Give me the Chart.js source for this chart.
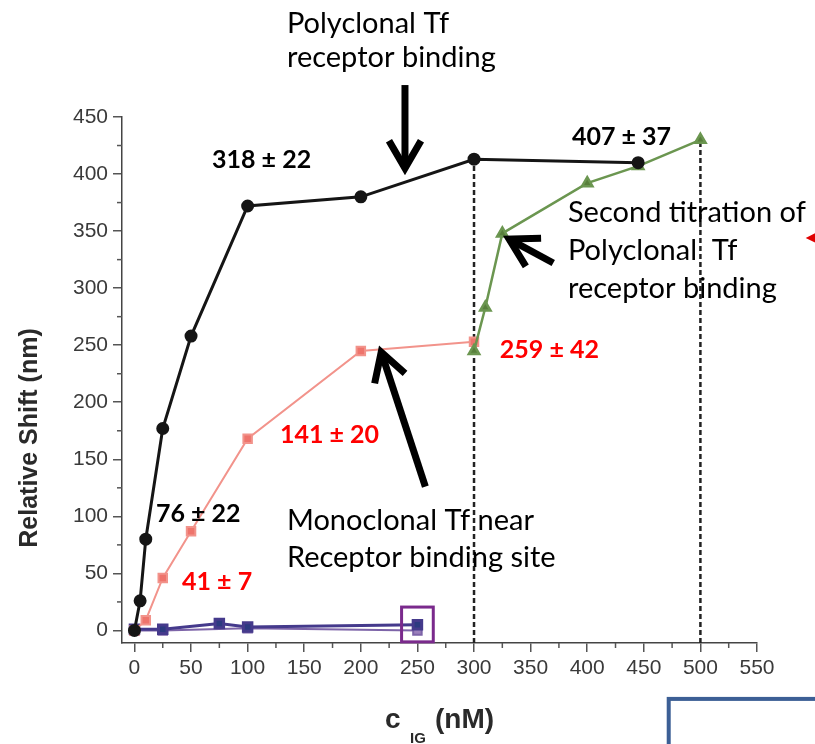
<!DOCTYPE html>
<html>
<head>
<meta charset="utf-8">
<script src="https://cdn.jsdelivr.net/npm/chart.js@4.4.1/dist/chart.umd.min.js"></script>
<style>
  html, body { margin: 0; padding: 0; background: #fff; }
  canvas { display: block; }
</style>
</head>
<body>
<canvas id="chart" width="815" height="744"></canvas>
<script>
// tick labels
const xTicks = [0, 50, 100, 150, 200, 250, 300, 350, 400, 450, 500, 550];
const yTicks = [0, 50, 100, 150, 200, 250, 300, 350, 400, 450];

// Polyclonal Tf receptor binding (black circles)
const polyX = [0, 5, 10, 25, 50, 100, 200, 300, 445];
const polyY = [0, 26, 80, 177, 258, 372, 380, 413, 410];

// Monoclonal Tf near receptor binding site (red squares)
const monoX = [0, 10, 25, 50, 100, 200, 300];
const monoY = [0, 9, 46, 87, 168, 245, 253];

// Second titration of polyclonal Tf (green triangles)
const secondX = [300, 310, 325, 400, 445, 500];
const secondY = [245, 283, 348, 392, 407, 430];

// controls near zero (navy / purple squares)
const ctrlAX = [0, 25, 75, 100, 250];
const ctrlAY = [1, 1, 6, 3, 5];
const ctrlBX = [0, 25, 100, 250];
const ctrlBY = [0, 0, 2, 0];

// dashed guide lines at the end of each titration
const guideX = [300, 500];
const guideTop = [413, 430];

const xMin = -11, xMax = 550, yMin = -11, yMax = 450;

const pts = (xs, ys) => xs.map((x, i) => ({ x: x, y: ys[i] }));

const datasets = [
  {
    data: pts(polyX, polyY),
    borderColor: '#151515', backgroundColor: '#151515',
    borderWidth: 3, pointStyle: 'circle', pointRadius: 5
  },
  {
    data: pts(secondX, secondY),
    borderColor: '#6b9650', backgroundColor: '#587f3c',
    borderWidth: 2.5, pointStyle: 'triangle', pointRadius: 6
  },
  {
    data: pts(monoX, monoY),
    borderColor: '#f2938b', backgroundColor: '#ee746c',
    borderWidth: 2, pointStyle: 'rect', pointRadius: 6
  },
  {
    data: pts(ctrlAX, ctrlAY),
    borderColor: '#453a8c', backgroundColor: '#2c3a80',
    borderWidth: 3, pointStyle: 'rect', pointRadius: 6
  },
  {
    data: pts(ctrlBX, ctrlBY),
    borderColor: '#7d64a8', backgroundColor: '#9b80bb',
    borderWidth: 2, pointStyle: 'rect', pointRadius: 6
  }
];

guideX.forEach((gx, i) => {
  datasets.push({
    data: [{ x: gx, y: yMin }, { x: gx, y: guideTop[i] }],
    borderColor: '#222', borderWidth: 2.5, borderDash: [5, 3],
    pointRadius: 0
  });
});

// minor ticks + axis titles + annotations
const extras = {
  id: 'extras',
  afterDraw(chart) {
    const ctx = chart.ctx;
    const xs = chart.scales.x, ys = chart.scales.y;
    const px = v => xs.getPixelForValue(v);
    const py = v => ys.getPixelForValue(v);
    const area = chart.chartArea;

    ctx.save();
    // minor ticks
    ctx.strokeStyle = '#555';
    ctx.lineWidth = 1.5;
    for (let v = 25; v < xMax; v += 50) {
      ctx.beginPath();
      ctx.moveTo(px(v), area.bottom);
      ctx.lineTo(px(v), area.bottom + 5);
      ctx.stroke();
    }
    for (let v = 25; v < yMax; v += 50) {
      ctx.beginPath();
      ctx.moveTo(area.left, py(v));
      ctx.lineTo(area.left - 5, py(v));
      ctx.stroke();
    }

    // axis titles
    ctx.fillStyle = '#2a2a2a';
    ctx.font = 'bold 25px "Liberation Sans", Arial, sans-serif';
    ctx.save();
    ctx.translate(37, 438);
    ctx.rotate(-Math.PI / 2);
    ctx.textAlign = 'center';
    ctx.fillText('Relative Shift (nm)', 0, 0);
    ctx.restore();

    ctx.textAlign = 'left';
    ctx.font = 'bold 28px "Liberation Sans", Arial, sans-serif';
    ctx.fillText('c', 385, 728);
    ctx.font = 'bold 15px "Liberation Sans", Arial, sans-serif';
    ctx.fillText('IG', 410, 743);
    ctx.font = 'bold 28px "Liberation Sans", Arial, sans-serif';
    ctx.fillText('(nM)', 435, 728);

    // boxes
    ctx.strokeStyle = '#7a2a8c';
    ctx.lineWidth = 3;
    ctx.strokeRect(px(236), py(20.5), px(264) - px(236), py(-10) - py(20.5));
    ctx.strokeStyle = '#3c5f95';
    ctx.lineWidth = 4;
    ctx.strokeRect(px(472), py(-60), 300, 200);

    // arrows
    const arrow = (x1, y1, x2, y2) => {
      const a = px(x1), b = py(y1), c = px(x2), d = py(y2);
      const ang = Math.atan2(d - b, c - a);
      const head = 32, spread = Math.PI / 6;
      ctx.strokeStyle = '#000';
      ctx.lineWidth = 7;
      ctx.lineCap = 'butt';
      ctx.beginPath();
      ctx.moveTo(a, b);
      ctx.lineTo(c, d);
      ctx.stroke();
      ctx.beginPath();
      ctx.moveTo(c - head * Math.cos(ang - spread), d - head * Math.sin(ang - spread));
      ctx.lineTo(c, d);
      ctx.lineTo(c - head * Math.cos(ang + spread), d - head * Math.sin(ang + spread));
      ctx.stroke();
    };
    arrow(239, 478, 239, 405);
    arrow(257, 126, 218, 244);
    arrow(370, 322, 331, 343);

    // small red arrowhead at right edge
    ctx.fillStyle = '#e00000';
    ctx.beginPath();
    const rx = px(593), ry = py(344);
    ctx.moveTo(rx, ry);
    ctx.lineTo(rx + 10, ry - 5);
    ctx.lineTo(rx + 10, ry + 5);
    ctx.closePath();
    ctx.fill();

    // labels
    const label = (txt, x, y, font, color) => {
      ctx.font = font;
      ctx.fillStyle = color;
      ctx.textAlign = 'left';
      ctx.fillText(txt, px(x), py(y));
    };
    const plain = '29px Lato, "Open Sans", sans-serif';
    const bold = 'bold 25px Lato, "Open Sans", sans-serif';
    label('Polyclonal Tf', 134.7, 523.6, plain, '#000');
    label('receptor binding', 134.7, 494, plain, '#000');
    label('Second titration of', 383, 358, plain, '#000');
    label('Polyclonal  Tf', 383, 324.6, plain, '#000');
    label('receptor binding', 383, 291, plain, '#000');
    label('Monoclonal Tf near', 134.7, 88, plain, '#000');
    label('Receptor binding site', 134.7, 55.7, plain, '#000');
    label('318 \u00b1 22', 68.5, 405, bold, '#000');
    label('407 \u00b1 37', 386.5, 425.5, bold, '#000');
    label('76 \u00b1 22', 19, 95, bold, '#000');
    label('259 \u00b1 42', 322.8, 238.7, bold, '#ff0000');
    label('141 \u00b1 20', 128.5, 164, bold, '#ff0000');
    label('41 \u00b1 7', 42, 35.4, bold, '#ff0000');
    ctx.restore();
  }
};

new Chart(document.getElementById('chart'), {
  type: 'line',
  data: { datasets: datasets },
  options: {
    responsive: false,
    animation: false,
    layout: { padding: { left: 0, top: 117, right: 58, bottom: 0 } },
    plugins: { legend: { display: false }, tooltip: { enabled: false } },
    scales: {
      x: {
        type: 'linear', min: xMin, max: xMax,
        afterBuildTicks: axis => { axis.ticks = xTicks.map(v => ({ value: v })); },
        afterFit: axis => { axis.height = 101; },
        grid: { drawOnChartArea: false, tickLength: 9, color: '#555', lineWidth: 1.5 },
        border: { color: '#444', width: 1.5 },
        ticks: { color: '#3a3a3a', padding: 4, maxRotation: 0, autoSkip: false,
          font: { family: '"Liberation Sans", Arial, sans-serif', size: 21 } }
      },
      y: {
        type: 'linear', min: yMin, max: yMax,
        afterBuildTicks: axis => { axis.ticks = yTicks.map(v => ({ value: v })); },
        afterFit: axis => { axis.width = 122; },
        grid: { drawOnChartArea: false, tickLength: 9, color: '#555', lineWidth: 1.5 },
        border: { color: '#444', width: 1.5 },
        ticks: { color: '#3a3a3a', padding: 5, autoSkip: false,
          font: { family: '"Liberation Sans", Arial, sans-serif', size: 21 } }
      }
    }
  },
  plugins: [extras]
});
</script>
</body>
</html>
